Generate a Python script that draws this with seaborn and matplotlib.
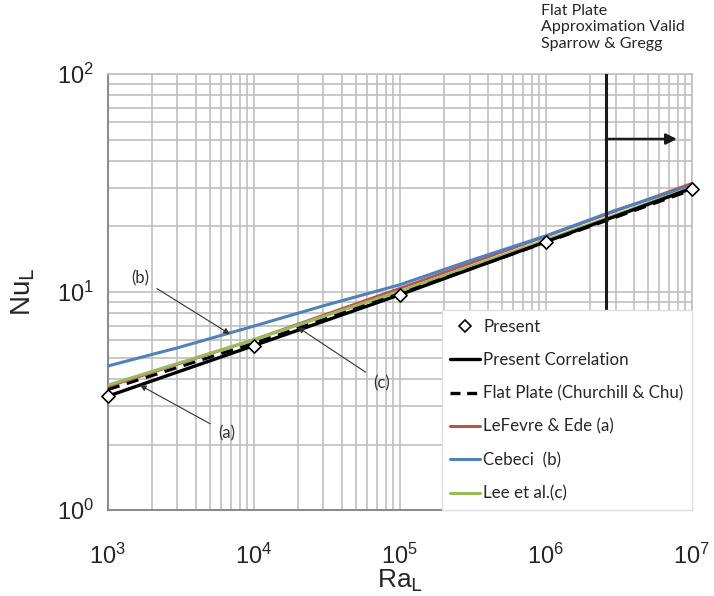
import numpy as np
import pandas as pd
import matplotlib
matplotlib.use('Agg')
import matplotlib.pyplot as plt
from matplotlib.lines import Line2D
import seaborn as sns

# values
ra_pts = [1e3, 1e4, 1e5, 1e6, 1e7]
nu_present = [3.35, 5.65, 9.7, 16.9, 29.7]
nu_corr = [3.33, 5.68, 9.72, 17.0, 29.9]
nu_churchill = [3.57, 5.82, 9.82, 16.9, 29.4]
nu_lefevre = [3.68, 6.05, 10.4, 18.0, 31.5]
nu_lee = [3.74, 6.05, 10.1, 17.3, 30.2]
ra_cebeci = [1e3, 3e3, 1e4, 3e4, 1e5, 3e5, 1e6, 3e6, 1e7]
nu_cebeci = [4.58, 5.55, 6.98, 8.65, 10.8, 13.9, 18.1, 23.7, 30.8]

RED = '#c0504d'
BLUE = '#4f81bd'
GREEN = '#9bbb59'
GRID = '#c0c0c0'
SANS = ['Lato', 'DejaVu Sans']

sns.set_style('white')
plt.rcParams['font.family'] = ['Liberation Sans', 'DejaVu Sans']
plt.rcParams['mathtext.default'] = 'regular'

fig = plt.figure(figsize=(7.14, 5.96), dpi=100)
ax = fig.add_axes([0.151, 0.144, 0.818, 0.732])

sns.lineplot(x=ra_pts, y=nu_lefevre, ax=ax, color=RED, lw=2.0, zorder=3)
sns.lineplot(x=ra_cebeci, y=nu_cebeci, ax=ax, color=BLUE, lw=2.2, zorder=3)
sns.lineplot(x=ra_pts, y=nu_lee, ax=ax, color=GREEN, lw=2.2, zorder=4)
sns.lineplot(x=ra_pts, y=nu_churchill, ax=ax, color='black', lw=2.2, zorder=5)
ax.lines[-1].set_dashes((4, 2.5))
sns.lineplot(x=ra_pts, y=nu_corr, ax=ax, color='black', lw=2.4, zorder=5)
sns.scatterplot(x=ra_pts, y=nu_present, ax=ax, marker='D', s=45, color='white',
                edgecolor='black', linewidth=1.2, zorder=6, clip_on=False)

ax.set_xscale('log')
ax.set_yscale('log')
ax.set_xlim(1e3, 1e7)
ax.set_ylim(1, 100)

ax.grid(True, which='both', color=GRID, lw=1.2)
for s in ['left', 'bottom']:
    ax.spines[s].set_color('#8c8c8c')
    ax.spines[s].set_linewidth(1.5)
for s in ['top', 'right']:
    ax.spines[s].set_color(GRID)
    ax.spines[s].set_linewidth(1.2)

ax.tick_params(axis='both', which='major', direction='out', length=6, width=1.3,
               color='#8c8c8c', labelsize=17)
ax.tick_params(axis='x', which='major', pad=18)
ax.tick_params(axis='y', which='major', pad=4)
ax.tick_params(axis='x', which='minor', direction='in', length=3, color='#8c8c8c')
ax.tick_params(axis='y', which='minor', length=0)

ax.set_xlabel('Ra$_{\\mathrm{L}}$', fontsize=19, labelpad=-1)
ax.set_ylabel('Nu$_{\\mathrm{L}}$', fontsize=20, labelpad=14)

# Sparrow & Gregg limit
x_lim = 2.58e6
ax.plot([x_lim, x_lim], [1, 100], color='#1a1a1a', lw=2.2, zorder=7)
ax.annotate('', xy=(7.9e6, 50.3), xytext=(x_lim, 50.3),
            arrowprops=dict(arrowstyle='-|>', color='#1a1a1a', lw=1.8,
                            mutation_scale=16, shrinkA=0, shrinkB=0), zorder=7)
fig.text(0.758, 0.993, 'Flat Plate\nApproximation Valid\nSparrow & Gregg',
         ha='left', va='top', fontsize=11.5, family=SANS, linespacing=1.2)

# labels (a), (b), (c)
arrow_kw = dict(arrowstyle='-|>', color='#333333', lw=0.8, mutation_scale=9,
                shrinkA=4, shrinkB=0)
for txt, tip, pos in [('(b)', (6.85e3, 6.42), (1.66e3, 11.6)),
                      ('(a)', (1.66e3, 3.74), (6.53e3, 2.26)),
                      ('(c)', (2.0e4, 6.9), (7.53e4, 3.83))]:
    ax.annotate(txt, xy=tip, xytext=pos, fontsize=12, family=SANS, color='#333333',
                ha='center', va='center', arrowprops=arrow_kw, zorder=8)

handles = [
    Line2D([], [], ls='none', marker='D', markersize=6, markerfacecolor='white',
           markeredgecolor='black', markeredgewidth=1.2),
    Line2D([], [], color='black', lw=2.4),
    Line2D([], [], color='black', lw=2.4, dashes=(3, 2)),
    Line2D([], [], color=RED, lw=2.2),
    Line2D([], [], color=BLUE, lw=2.2),
    Line2D([], [], color=GREEN, lw=2.2),
]
labels = ['Present', 'Present Correlation', 'Flat Plate (Churchill & Chu)',
          'LeFevre & Ede (a)', 'Cebeci  (b)', 'Lee et al.(c)']
leg = ax.legend(handles, labels, loc='lower right', bbox_to_anchor=(1.0, 0.0),
                borderaxespad=0, frameon=True, fancybox=False, framealpha=1,
                facecolor='white', edgecolor='#e0e0e0',
                labelspacing=1.02, handlelength=1.75, handletextpad=0.2,
                borderpad=0.5, prop={'family': SANS, 'size': 12.2})
leg.set_zorder(10)

fig.savefig('out.png', dpi=100)
